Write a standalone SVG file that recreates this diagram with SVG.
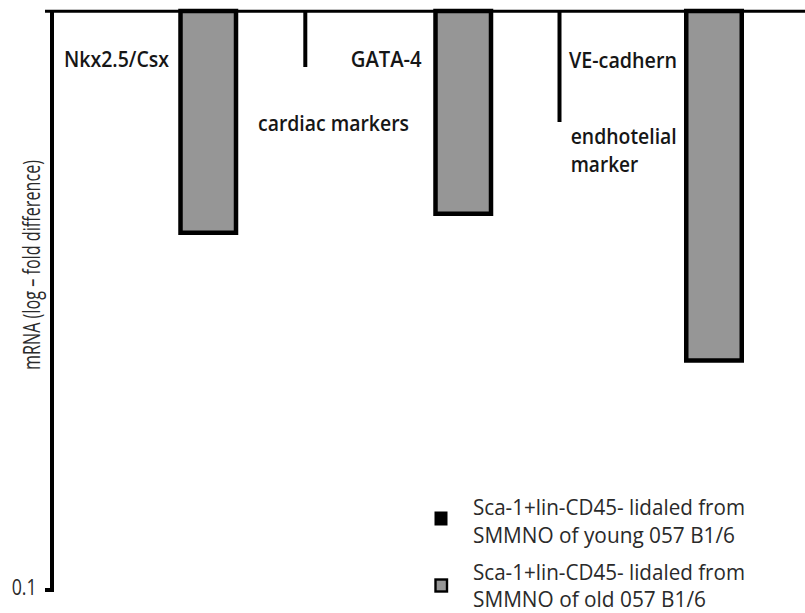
<svg xmlns="http://www.w3.org/2000/svg" width="805" height="613" viewBox="0 0 805 613">
<style>
.ax{stroke:#000;fill:none;stroke-linecap:butt}
.bar{fill:#969696;stroke:#000;stroke-width:4.5}
.lbl{font-family:"Open Sans","DejaVu Sans",sans-serif;font-size:21px;font-weight:600;fill:#161616}
.lt{font-family:"Open Sans","DejaVu Sans",sans-serif;font-size:22px;fill:#2a2a2a}
</style>
<rect x="0" y="0" width="805" height="613" fill="#fff"/>
<g id="axes">
<line class="ax" x1="45" y1="11.3" x2="805" y2="11.3" stroke-width="3"/>
<line class="ax" x1="52" y1="10" x2="52" y2="592" stroke-width="4"/>
<line class="ax" x1="45" y1="590" x2="54" y2="590" stroke-width="4"/>
<text class="lt" x="11.7" y="595" style="font-size:21px" textLength="25" lengthAdjust="spacingAndGlyphs">0.1</text>
<text class="lt" transform="translate(40 370) rotate(-90)" style="font-size:23px" textLength="210" lengthAdjust="spacingAndGlyphs">mRNA (log – fold difference)</text>
</g>
<g id="bar-nkx">
<rect class="bar" x="180.5" y="11" width="55.5" height="221.75"/>
<text class="lbl" x="64" y="67.3" textLength="105" lengthAdjust="spacingAndGlyphs">Nkx2.5/Csx</text>
</g>
<g id="cardiac-markers">
<line class="ax" x1="305.3" y1="11" x2="305.3" y2="67" stroke-width="4"/>
<text class="lbl" x="258" y="130.7" textLength="151" lengthAdjust="spacingAndGlyphs">cardiac markers</text>
</g>
<g id="bar-gata">
<rect class="bar" x="435.5" y="11" width="55.5" height="202.75"/>
<text class="lbl" x="350.7" y="67.3" textLength="71" lengthAdjust="spacingAndGlyphs">GATA-4</text>
</g>
<g id="endothelial-marker">
<line class="ax" x1="559.5" y1="11" x2="559.5" y2="122" stroke-width="4"/>
<text class="lbl" x="570.7" y="144" textLength="106" lengthAdjust="spacingAndGlyphs">endhotelial</text>
<text class="lbl" x="570.7" y="171.7" textLength="67.6" lengthAdjust="spacingAndGlyphs">marker</text>
</g>
<g id="bar-ve">
<rect class="bar" x="686.25" y="11" width="55.5" height="349.5"/>
<text class="lbl" x="569" y="68.3" textLength="108" lengthAdjust="spacingAndGlyphs">VE-cadhern</text>
</g>
<g id="legend">
<rect x="434.5" y="511.5" width="13" height="14" fill="#000"/>
<text class="lt" x="473" y="515" textLength="272" lengthAdjust="spacingAndGlyphs">Sca-1+lin-CD45- lidaled from</text>
<text class="lt" x="473" y="543" textLength="262" lengthAdjust="spacingAndGlyphs">SMMNO of young 057 B1/6</text>
<rect x="435.5" y="579.5" width="11.5" height="12" fill="#969696" stroke="#000" stroke-width="2.4"/>
<text class="lt" x="473" y="580" textLength="272" lengthAdjust="spacingAndGlyphs">Sca-1+lin-CD45- lidaled from</text>
<text class="lt" x="473" y="607" textLength="233" lengthAdjust="spacingAndGlyphs">SMMNO of old 057 B1/6</text>
</g>
</svg>
